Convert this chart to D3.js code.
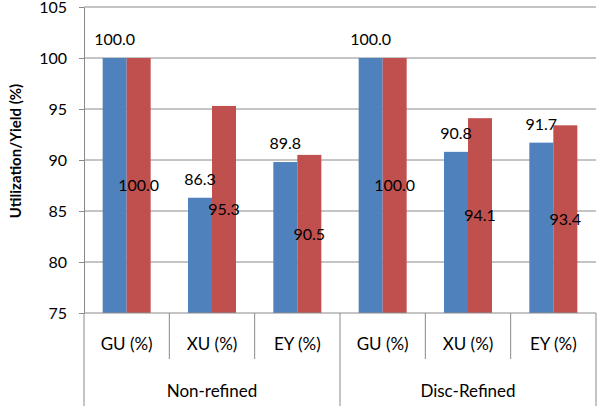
<!DOCTYPE html>
<html>
<head>
<meta charset="utf-8">
<script src="https://cdn.jsdelivr.net/npm/d3@7"></script>
<style>
body { margin: 0; background: #fff; }
text { font-family: Lato, "Open Sans", sans-serif; fill: #000; }
</style>
</head>
<body>
<script>
// категории и значения
var categories = ["GU (%)", "XU (%)", "EY (%)", "GU (%)", "XU (%)", "EY (%)"];
var groups = ["Non-refined", "Disc-Refined"];
var seriesNames = ["blue", "red"];
var blueValues = [100.0, 86.3, 89.8, 100.0, 90.8, 91.7];
var redValues = [100.0, 95.3, 90.5, 100.0, 94.1, 93.4];
var yTicks = [75, 80, 85, 90, 95, 100, 105];

// константы разметки
var svgW = 600, svgH = 410;
var xLeft = 84, xRight = 596, yTop = 7, yBottom = 313;
var gridColor = "#8a8a8a";
var colors = {blue: "#4f81bd", red: "#c0504d"};
var fontSize = 16;

var svg = d3.select("body").append("svg")
    .attr("width", svgW)
    .attr("height", svgH);

var y = d3.scaleLinear().domain([75, 105]).range([yBottom, yTop]);
var x = d3.scaleBand().domain(d3.range(categories.length)).range([xLeft, xRight]);
var xs = d3.scaleBand().domain(seriesNames).range([0, x.bandwidth()]).paddingOuter(0.778);

// сетка
svg.append("g").selectAll("line").data(yTicks.slice(1)).enter().append("line")
    .attr("x1", xLeft).attr("x2", xRight)
    .attr("y1", function(d){ return y(d); }).attr("y2", function(d){ return y(d); })
    .attr("stroke", gridColor).attr("stroke-width", 1);

// ось Y
var yAxis = svg.append("g").attr("transform", "translate(" + xLeft + ",0)")
    .call(d3.axisLeft(y).tickValues(yTicks).tickSize(5).tickSizeOuter(0).tickPadding(12));
yAxis.select(".domain").attr("stroke", gridColor);
yAxis.selectAll(".tick line").attr("stroke", gridColor);
yAxis.selectAll(".tick text").attr("font-size", fontSize).attr("font-family", "Lato").attr("fill", "#000");

// столбцы
var rows = categories.map(function(c, i){ return {i: i, blue: blueValues[i], red: redValues[i]}; });
seriesNames.forEach(function(s){
    svg.append("g").selectAll("rect").data(rows).enter().append("rect")
        .attr("x", function(d){ return x(d.i) + xs(s); })
        .attr("width", xs.bandwidth())
        .attr("y", function(d){ return y(d[s]); })
        .attr("height", function(d){ return yBottom - y(d[s]); })
        .attr("fill", colors[s]);
});

// подписи значений: синие над столбцом, красные в центре
svg.append("g").selectAll("text").data(rows).enter().append("text")
    .attr("x", function(d){ return x(d.i) + xs("blue") + xs.bandwidth()/2; })
    .attr("y", function(d){ return y(d.blue) - 13; })
    .attr("text-anchor", "middle").attr("font-size", fontSize)
    .text(function(d){ return d.blue.toFixed(1); });
svg.append("g").selectAll("text").data(rows).enter().append("text")
    .attr("x", function(d){ return x(d.i) + xs("red") + xs.bandwidth()/2; })
    .attr("y", function(d){ return (y(d.red) + yBottom)/2; })
    .attr("dy", "0.35em")
    .attr("text-anchor", "middle").attr("font-size", fontSize)
    .text(function(d){ return d.red.toFixed(1); });

// ось X
svg.append("line").attr("x1", xLeft).attr("x2", xRight).attr("y1", yBottom).attr("y2", yBottom)
    .attr("stroke", gridColor);
d3.range(categories.length + 1).forEach(function(k){
    var xx = k < categories.length ? x(k) : xRight;
    var isGroup = (k % 3 == 0);
    svg.append("line").attr("x1", xx).attr("x2", xx)
        .attr("y1", yBottom).attr("y2", isGroup ? 406 : 359)
        .attr("stroke", gridColor);
});
svg.append("g").selectAll("text").data(categories).enter().append("text")
    .attr("x", function(d, i){ return x(i) + x.bandwidth()/2; })
    .attr("y", 350)
    .attr("text-anchor", "middle").attr("font-size", 17)
    .text(function(d){ return d; });
svg.append("g").selectAll("text").data(groups).enter().append("text")
    .attr("x", function(d, i){ return (x(i*3) + (i == 1 ? xRight : x(3)))/2; })
    .attr("y", 397)
    .attr("text-anchor", "middle").attr("font-size", 17)
    .text(function(d){ return d; });

// подпись оси Y
svg.append("text")
    .attr("transform", "translate(21," + ((yTop + yBottom)/2 - 9) + ") rotate(-90)")
    .attr("text-anchor", "middle").attr("font-size", 15).attr("font-weight", "bold")
    .text("Utilization/Yield (%)");
</script>
</body>
</html>
